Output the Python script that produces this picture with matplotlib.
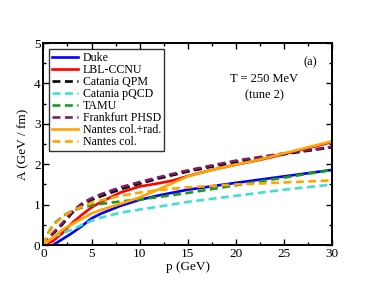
import matplotlib
matplotlib.use("Agg")
import matplotlib.pyplot as plt
from matplotlib.ticker import MultipleLocator

plt.rcParams['font.family'] = ['Liberation Serif', 'DejaVu Serif']
plt.rcParams['mathtext.fontset'] = 'stix'

# Data
duke_p = [1, 2, 3, 4, 5, 6, 8, 10, 12, 15, 20, 25, 30]
duke_A = [0, 0.15, 0.3, 0.47, 0.66, 0.78, 0.97, 1.12, 1.23, 1.37, 1.54, 1.70, 1.86]

lbl_p = [0, 1, 2, 3, 4, 5, 6, 8, 10, 12, 13.5, 15, 17.5, 20, 22.5, 25, 27.5, 30]
lbl_A = [0, 0.1, 0.3, 0.55, 0.75, 0.93, 1.07, 1.3, 1.45, 1.53, 1.6, 1.71, 1.86, 1.99, 2.11, 2.25, 2.4, 2.55]

qpm_p = [0, 1, 2, 3, 4, 5, 6, 8, 10, 12, 15, 20, 25, 30]
qpm_A = [0, 0.28, 0.52, 0.8, 1.0, 1.12, 1.21, 1.38, 1.52, 1.65, 1.82, 2.06, 2.25, 2.42]

pqcd_p = [0, 1, 2, 3, 4, 5, 6, 8, 10, 12, 15, 20, 25, 30]
pqcd_A = [0, 0.2, 0.3, 0.38, 0.5, 0.6, 0.68, 0.8, 0.88, 0.95, 1.07, 1.22, 1.37, 1.50]

tamu_p = [0, 0.5, 1, 2, 3, 4, 5, 6, 8, 10, 12, 15, 20, 25, 30]
tamu_A = [0, 0.3, 0.5, 0.72, 0.85, 0.93, 0.98, 1.02, 1.08, 1.13, 1.19, 1.29, 1.48, 1.67, 1.86]

phsd_p = [0, 1, 2, 3, 4, 5, 6, 8, 10, 12, 15, 20, 25, 30]
phsd_A = [0, 0.3, 0.55, 0.83, 1.03, 1.16, 1.26, 1.43, 1.56, 1.68, 1.85, 2.09, 2.27, 2.43]

nrad_p = [0, 1, 2, 3, 4, 5, 6, 8, 10, 12, 15, 17.5, 20, 22.5, 25, 27.5, 30]
nrad_A = [0, 0.2, 0.38, 0.52, 0.65, 0.78, 0.87, 1.02, 1.18, 1.38, 1.70, 1.86, 1.99, 2.12, 2.27, 2.42, 2.57]

ncol_p = [0, 0.5, 1, 2, 3, 4, 5, 6, 8, 10, 12, 15, 20, 25, 30]
ncol_A = [0, 0.28, 0.48, 0.7, 0.85, 0.95, 1.04, 1.11, 1.22, 1.3, 1.36, 1.43, 1.50, 1.55, 1.60]

fig = plt.figure(figsize=(3.74, 2.89), dpi=100)
ax = fig.add_axes([0.116, 0.152, 0.772, 0.699])

lw = 1.9
dash = (3.0, 1.7)
ax.plot(duke_p, duke_A, color='#0000ff', lw=lw, label='Duke')
ax.plot(lbl_p, lbl_A, color='#ff0000', lw=lw, label='LBL-CCNU')
ax.plot(qpm_p, qpm_A, color='black', lw=lw, dashes=dash, label='Catania QPM')
ax.plot(pqcd_p, pqcd_A, color='#40e0d0', lw=lw, dashes=dash, label='Catania pQCD')
ax.plot(tamu_p, tamu_A, color='#1a9a1a', lw=lw, dashes=dash, label='TAMU')
ax.plot(phsd_p, phsd_A, color='#7a1f62', lw=lw, dashes=dash, label='Frankfurt PHSD')
ax.plot(nrad_p, nrad_A, color='#ffa500', lw=lw, label='Nantes col.+rad.')
ax.plot(ncol_p, ncol_A, color='#ffa500', lw=lw, dashes=dash, label='Nantes col.')

ax.set_xlim(0, 30)
ax.set_ylim(0, 5)
ax.xaxis.set_major_locator(MultipleLocator(5))
ax.xaxis.set_minor_locator(MultipleLocator(2.5))
ax.yaxis.set_major_locator(MultipleLocator(1))
ax.yaxis.set_minor_locator(MultipleLocator(0.5))
ax.tick_params(which='both', direction='in', top=True, right=True, width=1.0, labelsize=9.5, pad=2)
ax.tick_params(which='major', length=4)
ax.tick_params(which='minor', length=2.5)
for s in ax.spines.values():
    s.set_linewidth(1.4)

ax.set_xlabel('p (GeV)', fontsize=9.5, labelpad=1)
ax.set_ylabel('A (GeV / fm)', fontsize=9.5, labelpad=3)

ax.text(0.765, 0.82, 'T = 250 MeV', transform=ax.transAxes, ha='center', va='center', fontsize=9)
ax.text(0.765, 0.74, '(tune 2)', transform=ax.transAxes, ha='center', va='center', fontsize=9)
ax.text(0.925, 0.905, '(a)', transform=ax.transAxes, ha='center', va='center', fontsize=9)

leg = ax.legend(loc='upper left', bbox_to_anchor=(0.02, 0.97), fontsize=8.6, frameon=True,
                fancybox=False, edgecolor='black', borderpad=0.25, labelspacing=0.0,
                handlelength=2.2, handletextpad=0.35, borderaxespad=0)
leg.get_frame().set_linewidth(1.0)

fig.savefig('out.png', dpi=100)
